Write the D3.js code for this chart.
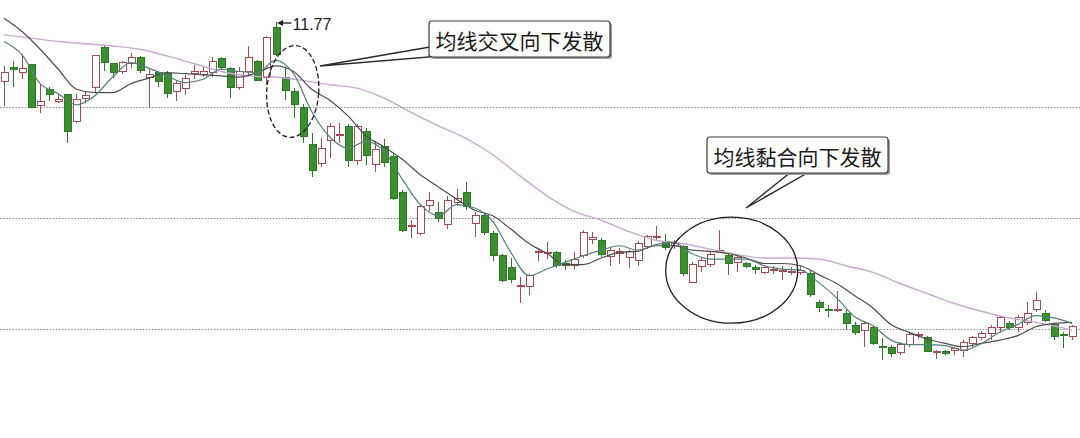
<!DOCTYPE html>
<html>
<head>
<meta charset="utf-8">
<script src="https://cdn.jsdelivr.net/npm/d3@7"></script>
<style>
  html, body { margin: 0; padding: 0; background: #fff; }
  svg { display: block; }
</style>
</head>
<body>
<svg id="chart" width="1080" height="438"></svg>
<script>
// daily bars, one entry per trading day (119 days)
var opens = [
  11.23, 11.36, 11.31, 11.38, 11.01, 11.16, 11.05, 11.11, 10.87, 11.08,
  11.18, 11.54, 11.39, 11.32, 11.39, 11.45, 11.27, 11.31, 11.30, 11.14,
  11.17, 11.30, 11.29, 11.31, 11.44, 11.35, 11.18, 11.32, 11.41, 11.27,
  11.72, 11.27, 11.14, 11.00, 10.66, 10.49, 10.70, 10.74, 10.82, 10.52,
  10.78, 10.48, 10.64, 10.55, 10.23, 9.92, 9.86, 10.11, 10.05, 9.94,
  10.14, 10.23, 9.95, 10.02, 9.86, 9.66, 9.55, 9.38, 9.38, 9.69,
  9.68, 9.69, 9.59, 9.57, 9.66, 9.81, 9.80, 9.65, 9.68, 9.64,
  9.62, 9.74, 9.82, 9.79, 9.75, 9.74, 9.42, 9.56, 9.58, 9.70,
  9.66, 9.60, 9.59, 9.55, 9.51, 9.53, 9.52, 9.51, 9.51, 9.50,
  9.24, 9.18, 9.17, 9.14, 9.03, 8.99, 9.01, 8.84, 8.83, 8.79,
  8.86, 8.94, 8.92, 8.80, 8.80, 8.81, 8.81, 8.87, 8.92, 8.96,
  9.01, 9.05, 9.01, 9.06, 9.18, 9.14, 9.04, 8.95, 8.93
];
var highs = [
  11.37, 11.41, 11.48, 11.39, 11.21, 11.18, 11.12, 11.12, 11.12, 11.14,
  11.47, 11.55, 11.40, 11.41, 11.49, 11.46, 11.34, 11.32, 11.32, 11.24,
  11.29, 11.38, 11.36, 11.45, 11.45, 11.36, 11.36, 11.55, 11.42, 11.64,
  11.77, 11.36, 11.17, 11.03, 10.77, 10.72, 10.86, 10.86, 10.85, 10.85,
  10.81, 10.69, 10.71, 10.59, 10.25, 9.98, 10.13, 10.23, 10.14, 10.20,
  10.26, 10.32, 10.05, 10.05, 9.88, 9.68, 9.64, 9.47, 9.50, 9.73,
  9.78, 9.70, 9.62, 9.69, 9.89, 9.87, 9.82, 9.74, 9.73, 9.71,
  9.79, 9.85, 9.93, 9.86, 9.80, 9.76, 9.60, 9.65, 9.69, 9.89,
  9.68, 9.66, 9.60, 9.58, 9.57, 9.57, 9.57, 9.56, 9.57, 9.52,
  9.26, 9.22, 9.34, 9.17, 9.06, 9.06, 9.03, 8.92, 8.86, 8.88,
  8.97, 8.97, 8.94, 8.81, 8.81, 8.84, 8.90, 8.94, 8.98, 9.04,
  9.12, 9.07, 9.13, 9.24, 9.33, 9.17, 9.05, 8.97, 9.04
];
var lows = [
  11.01, 11.18, 11.25, 10.99, 10.95, 11.05, 11.04, 10.68, 10.86, 11.04,
  11.13, 11.32, 11.26, 11.30, 11.35, 11.31, 10.99, 11.18, 11.08, 11.05,
  11.11, 11.25, 11.27, 11.27, 11.33, 11.08, 11.15, 11.28, 11.23, 11.20,
  11.46, 11.06, 10.90, 10.68, 10.37, 10.46, 10.54, 10.68, 10.46, 10.48,
  10.48, 10.41, 10.46, 10.16, 9.87, 9.82, 9.85, 10.06, 9.96, 9.90,
  10.11, 10.07, 9.83, 9.85, 9.61, 9.42, 9.41, 9.23, 9.31, 9.61,
  9.63, 9.55, 9.53, 9.54, 9.64, 9.77, 9.65, 9.57, 9.59, 9.55,
  9.57, 9.72, 9.79, 9.71, 9.72, 9.48, 9.41, 9.51, 9.56, 9.69,
  9.49, 9.51, 9.55, 9.50, 9.50, 9.50, 9.44, 9.49, 9.49, 9.29,
  9.15, 9.11, 9.15, 8.99, 8.95, 8.84, 8.86, 8.72, 8.75, 8.77,
  8.84, 8.91, 8.79, 8.73, 8.77, 8.77, 8.75, 8.84, 8.90, 8.90,
  8.97, 8.99, 8.97, 9.04, 9.15, 9.06, 8.90, 8.83, 8.90
];
var closes = [
  11.31, 11.34, 11.35, 11.00, 11.05, 11.11, 11.07, 10.78, 11.07, 11.10,
  11.46, 11.40, 11.31, 11.40, 11.45, 11.33, 11.29, 11.23, 11.12, 11.21,
  11.26, 11.32, 11.32, 11.41, 11.36, 11.18, 11.32, 11.45, 11.24, 11.63,
  11.47, 11.15, 11.02, 10.73, 10.43, 10.63, 10.82, 10.75, 10.52, 10.82,
  10.56, 10.62, 10.50, 10.18, 9.89, 9.93, 10.10, 10.16, 10.00, 10.16,
  10.18, 10.10, 10.02, 9.87, 9.66, 9.44, 9.45, 9.39, 9.48, 9.70,
  9.69, 9.57, 9.57, 9.63, 9.87, 9.82, 9.67, 9.71, 9.70, 9.70,
  9.77, 9.83, 9.83, 9.73, 9.77, 9.50, 9.58, 9.62, 9.67, 9.71,
  9.59, 9.64, 9.56, 9.54, 9.55, 9.54, 9.53, 9.52, 9.53, 9.31,
  9.19, 9.17, 9.18, 9.05, 8.97, 9.05, 8.87, 8.83, 8.78, 8.86,
  8.95, 8.95, 8.80, 8.80, 8.78, 8.82, 8.88, 8.92, 8.96, 9.01,
  9.10, 9.01, 9.10, 9.14, 9.26, 9.08, 8.93, 8.94, 9.02
];

// moving averages (short and mid lines every 2nd day, long line every 3rd day)
var maDays = d3.range(0, 119, 2);
var ma5 = [
  11.59, 11.47, 11.21, 11.12, 11.02, 11.10, 11.27, 11.40, 11.35, 11.28,
  11.22, 11.25, 11.34, 11.32, 11.31, 11.42, 11.30, 10.96, 10.73, 10.63,
  10.69, 10.60, 10.35, 10.12, 10.02, 10.12, 10.09, 9.97, 9.69, 9.48,
  9.54, 9.60, 9.66, 9.71, 9.75, 9.71, 9.76, 9.78, 9.68, 9.63,
  9.63, 9.63, 9.57, 9.54, 9.53, 9.42, 9.28, 9.11, 9.03, 8.90,
  8.86, 8.86, 8.85, 8.81, 8.87, 8.97, 9.04, 9.12, 9.10, 9.05
];
var ma10 = [
  11.80, 11.68, 11.52, 11.34, 11.16, 11.13, 11.13, 11.21, 11.26, 11.31,
  11.30, 11.29, 11.28, 11.27, 11.31, 11.37, 11.32, 11.16, 11.06, 10.92,
  10.74, 10.64, 10.53, 10.39, 10.28, 10.17, 10.07, 10.02, 9.90, 9.77,
  9.68, 9.58, 9.58, 9.64, 9.69, 9.70, 9.75, 9.75, 9.71, 9.70,
  9.68, 9.64, 9.59, 9.59, 9.57, 9.49, 9.41, 9.30, 9.19, 9.04,
  8.97, 8.91, 8.87, 8.84, 8.87, 8.90, 8.94, 9.02, 9.05, 9.06
];
var ma30Days = d3.range(0, 118, 3).concat([118]);
var ma30 = [
  11.65, 11.62, 11.59, 11.57, 11.55, 11.52, 11.46, 11.39, 11.32, 11.28,
  11.27, 11.24, 11.20, 11.17, 11.08, 10.95, 10.83, 10.72, 10.57, 10.38,
  10.20, 10.06, 9.98, 9.88, 9.80, 9.77, 9.72, 9.67, 9.64, 9.64,
  9.63, 9.57, 9.51, 9.41, 9.32, 9.23, 9.16, 9.10, 9.06, 9.01, 8.99
];

var gridPrices = [9, 10, 11];
var labelTexts = ["均线交叉向下发散", "均线黏合向下发散"];

var svg = d3.select("#chart");
var W = 1080, H = 438;

var x = d3.scaleLinear().domain([0, opens.length - 1]).range([4, 1072]);
var y = d3.scaleLinear().domain([9, 11]).range([329, 107]);

var upColor = "#a44a55", downFill = "#3c8f30", downStroke = "#2d7a24";

// dotted price lines
svg.append("g").selectAll("line")
  .data(gridPrices)
  .enter().append("line")
  .attr("x1", 0).attr("x2", W)
  .attr("y1", function (d) { return Math.round(y(d)) + 0.5; })
  .attr("y2", function (d) { return Math.round(y(d)) + 0.5; })
  .attr("stroke", "#8c8c8c")
  .attr("stroke-width", 1)
  .attr("stroke-dasharray", "1.5,1.6");

// candles
var bars = d3.range(opens.length).map(function (i) {
  return { i: i, o: opens[i], h: highs[i], l: lows[i], c: closes[i], up: closes[i] >= opens[i] };
});

var gBars = svg.append("g").attr("shape-rendering", "crispEdges");
var bar = gBars.selectAll("g").data(bars).enter().append("g");

bar.append("line")
  .attr("x1", function (d) { return Math.round(x(d.i)) + 0.5; })
  .attr("x2", function (d) { return Math.round(x(d.i)) + 0.5; })
  .attr("y1", function (d) { return y(d.h); })
  .attr("y2", function (d) { return y(d.l); })
  .attr("stroke", function (d) { return d.up ? upColor : downStroke; })
  .attr("stroke-width", 1.2);

bar.append("rect")
  .attr("x", function (d) { return Math.round(x(d.i)) - 3; })
  .attr("width", 7)
  .attr("y", function (d) { return y(Math.max(d.o, d.c)); })
  .attr("height", function (d) { return Math.max(1, Math.abs(y(d.o) - y(d.c))); })
  .attr("fill", function (d) { return d.up ? "#fff" : downFill; })
  .attr("stroke", function (d) { return d.up ? upColor : downStroke; })
  .attr("stroke-width", 1);

// moving average lines
var line = d3.line()
  .x(function (d) { return x(d[0]); })
  .y(function (d) { return y(d[1]); })
  .curve(d3.curveMonotoneX);

function pairs(days, vals) { return days.map(function (d, k) { return [d, vals[k]]; }); }

svg.append("path").datum(pairs(ma30Days, ma30))
  .attr("d", line).attr("fill", "none")
  .attr("stroke", "#c9a8d2").attr("stroke-width", 1.4);
svg.append("path").datum(pairs(maDays, ma10))
  .attr("d", line).attr("fill", "none")
  .attr("stroke", "#4d4d4d").attr("stroke-width", 1.2);
svg.append("path").datum(pairs(maDays, ma5))
  .attr("d", line).attr("fill", "none")
  .attr("stroke", "#4f8379").attr("stroke-width", 1.2);

// highest price marker
var peak = d3.maxIndex(highs);
var px = x(peak), py = y(highs[peak]);
svg.append("path")
  .attr("d", "M" + (px + 1.5) + "," + (py + 1.5) + "l6,-3l0,6z")
  .attr("fill", "#222");
svg.append("line")
  .attr("x1", px + 6).attr("x2", px + 16)
  .attr("y1", py + 1.5).attr("y2", py + 1.5)
  .attr("stroke", "#222").attr("stroke-width", 1.3);
svg.append("text")
  .attr("x", px + 17).attr("y", py + 8.5)
  .attr("font-family", "Liberation Sans, Arial, sans-serif")
  .attr("font-size", 16)
  .attr("fill", "#222")
  .text(d3.format(".2f")(highs[peak]));

// ellipses round the two turning zones
svg.append("ellipse")
  .attr("transform", "translate(" + x(31.9) + "," + y(11.14) + ") rotate(4)")
  .attr("rx", 26).attr("ry", 46)
  .attr("fill", "none").attr("stroke", "#1e1e1e")
  .attr("stroke-width", 1.3).attr("stroke-dasharray", "5,2.5");
svg.append("ellipse")
  .attr("cx", x(80.4)).attr("cy", y(9.53))
  .attr("rx", 66).attr("ry", 53)
  .attr("fill", "none").attr("stroke", "#1e1e1e")
  .attr("stroke-width", 1.3);

// callouts: box + wedge pointing at the ellipse
var callouts = [
  { text: labelTexts[0], bx: 429, by: 21, bw: 181, bh: 36, tip: [320, 66], b1: [430, 47], b2: [441, 56] },
  { text: labelTexts[1], bx: 707, by: 137, bw: 181, bh: 36, tip: [746, 208], b1: [791, 172], b2: [809, 172] }
];

var gCall = svg.append("g").selectAll("g").data(callouts).enter().append("g");

gCall.append("path")
  .attr("d", function (d) { return "M" + d.b1 + "L" + d.tip + "L" + d.b2 + "Z"; })
  .attr("fill", "#fff").attr("stroke", "#2a2a2a").attr("stroke-width", 1.4)
  .attr("stroke-linejoin", "miter");

gCall.append("rect")
  .attr("x", function (d) { return d.bx + 2; }).attr("y", function (d) { return d.by + 2; })
  .attr("width", function (d) { return d.bw; }).attr("height", function (d) { return d.bh; })
  .attr("rx", 3).attr("fill", "#9a9a9a");

gCall.append("rect")
  .attr("x", function (d) { return d.bx; }).attr("y", function (d) { return d.by; })
  .attr("width", function (d) { return d.bw; }).attr("height", function (d) { return d.bh; })
  .attr("rx", 3).attr("fill", "#fff")
  .attr("stroke", "#3a3a3a").attr("stroke-width", 1.2);

gCall.append("text")
  .attr("x", function (d) { return d.bx + d.bw / 2; })
  .attr("y", function (d) { return d.by + d.bh / 2 + 1; })
  .attr("text-anchor", "middle")
  .attr("dominant-baseline", "central")
  .attr("font-family", "Noto Sans CJK SC, sans-serif")
  .attr("font-size", 21)
  .attr("fill", "#1a1a1a")
  .text(function (d) { return d.text; });
</script>
</body>
</html>
